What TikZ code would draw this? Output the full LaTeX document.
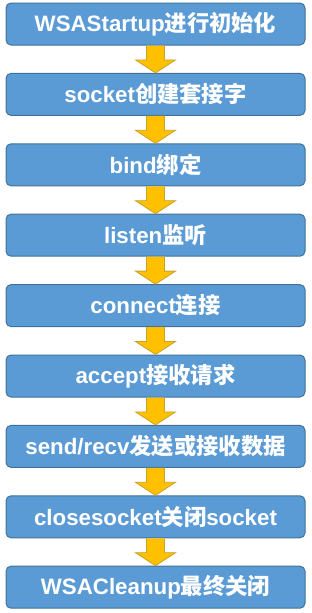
\documentclass[tikz,border=0pt]{standalone}
\usepackage{fontspec}
\setmainfont{Liberation Sans}
\newfontfamily\cjk{Noto Sans CJK SC}
\usetikzlibrary{calc}
\definecolor{boxfill}{HTML}{5B9BD5}
\definecolor{boxline}{HTML}{41719C}
\definecolor{arrfill}{HTML}{FFC000}
\definecolor{arrline}{HTML}{C9A227}
\newcommand{\zh}[1]{{\cjk\bfseries #1}}
\tikzset{
  stepbox/.style={draw=boxline, fill=boxfill, line width=1pt, rounded corners=5pt,
    minimum width=299pt, minimum height=42pt, inner sep=0pt, text=white,
    font=\fontsize{22.3}{25}\selectfont\bfseries},
  bigarrow/.style={draw=arrline, fill=arrfill, line width=0.8pt, line join=miter}
}
\newcommand{\flowarrow}[2]{%
  \path[bigarrow] ($(#1.south)+(-9,0)$) -- ($(#2.north)+(-9,-13)$) -- ($(#2.north)+(-20,-13)$)
    -- (#2.north) -- ($(#2.north)+(20,-13)$) -- ($(#2.north)+(9,-13)$) -- ($(#1.south)+(9,0)$);}
\begin{document}
\begin{tikzpicture}[x=1pt,y=-1pt]
\useasboundingbox (0,0) rectangle (311,613);
\node[stepbox] (b1) at (155.5,24) {WSAStartup\zh{进行初始化}};
\node[stepbox] (b2) at (155.5,94.4) {socket\zh{创建套接字}};
\node[stepbox] (b3) at (155.5,164.8) {bind\zh{绑定}};
\node[stepbox] (b4) at (155.5,235.2) {listen\zh{监听}};
\node[stepbox] (b5) at (155.5,305.6) {connect\zh{连接}};
\node[stepbox] (b6) at (155.5,376) {accept\zh{接收请求}};
\node[stepbox] (b7) at (155.5,446.4) {send/recv\zh{发送或接收数据}};
\node[stepbox] (b8) at (155.5,516.8) {closesocket\zh{关闭}socket};
\node[stepbox] (b9) at (155.5,587.2) {WSACleanup\zh{最终关闭}};
\flowarrow{b1}{b2}
\flowarrow{b2}{b3}
\flowarrow{b3}{b4}
\flowarrow{b4}{b5}
\flowarrow{b5}{b6}
\flowarrow{b6}{b7}
\flowarrow{b7}{b8}
\flowarrow{b8}{b9}
\end{tikzpicture}
\end{document}
